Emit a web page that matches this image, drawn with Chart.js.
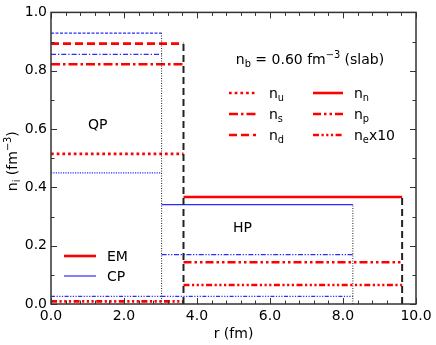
<!DOCTYPE html>
<html><head><meta charset="utf-8">
<script src="https://cdn.jsdelivr.net/npm/chart.js@4/dist/chart.umd.min.js"></script>
<style>html,body{margin:0;padding:0;background:#fff}#wrap{width:436px;height:345px;position:relative}</style>
</head><body><div id="wrap"><canvas id="c"></canvas></div>
<script>
// ---- data ----
const xTicks = [0, 2, 4, 6, 8, 10];
const yTicks = [0, 0.2, 0.4, 0.6, 0.8, 1.0];
const quarkNames = ['u', 's', 'd'];
const hadronNames = ['n', 'p'];
const emRadii = [3.63, 9.62];   // QP radius, cell radius (EM)
const cpRadii = [3.03, 8.27];   // QP radius, cell radius (CP)
const emQuark = [0.515, 0.822, 0.893]; // u, s, d in QP (EM)
const cpQuark = [0.450, 0.856, 0.929]; // u, s, d in QP (CP)
const emHadron = [0.367, 0.143];       // n, p in HP (EM)
const cpHadron = [0.341, 0.169];       // n, p in HP (CP)
const emElec10 = [0.009, 0.065];       // ne x10 in QP, HP (EM)
const cpElec10 = [0.026, 0.026];       // ne x10 in QP, HP (CP)

// ---- styles ----
const RED = '#ff0000', BLUE = '#2b2bff', BLACK = '#222222';
const emDash = { u: [2.7, 3], s: [9, 3, 2.5, 3], d: [8, 4], n: [], p: [8, 3, 2.5, 3, 2.5, 3], e: [6, 2.5, 2.2, 2.5, 2.2, 2.5, 2.2, 2.5] };
const cpDash = { u: [1.2, 1.2], s: [5, 2, 1.3, 2], d: [3, 1.5], n: [], p: [5, 1.6, 1.3, 1.6, 1.3, 1.6], e: [4, 1.5, 1.2, 1.5, 1.2, 1.5, 1.2, 1.5] };
const EMW = 2.6, CPW = 1.2;

const datasets = [];
function seg(x0, x1, y0, y1, color, width, dash) {
  datasets.push({ data: [{ x: x0, y: y0 }, { x: x1, y: y1 }], borderColor: color, borderWidth: width,
    borderDash: dash, pointRadius: 0, fill: false, tension: 0, borderCapStyle: 'butt' });
}
// boundaries (vertical)
seg(cpRadii[0], cpRadii[0], 0, Math.max(...cpQuark), BLACK, 1, [1, 1.5]);
seg(cpRadii[1], cpRadii[1], 0, cpHadron[0], BLACK, 1, [1, 1.5]);
seg(emRadii[0], emRadii[0], 0, Math.max(...emQuark), BLACK, 2, [7, 4]);
seg(emRadii[1], emRadii[1], 0, emHadron[0], BLACK, 2, [7, 4]);
// CP
quarkNames.forEach((q, i) => seg(0, cpRadii[0], cpQuark[i], cpQuark[i], BLUE, CPW, cpDash[q]));
hadronNames.forEach((h, i) => seg(cpRadii[0], cpRadii[1], cpHadron[i], cpHadron[i], BLUE, CPW, cpDash[h]));
seg(0, cpRadii[0], cpElec10[0], cpElec10[0], BLUE, CPW, cpDash.e);
seg(cpRadii[0], cpRadii[1], cpElec10[1], cpElec10[1], BLUE, CPW, cpDash.e);
// EM
quarkNames.forEach((q, i) => seg(0, emRadii[0], emQuark[i], emQuark[i], RED, EMW, emDash[q]));
hadronNames.forEach((h, i) => seg(emRadii[0], emRadii[1], emHadron[i], emHadron[i], RED, EMW, emDash[h]));
seg(0, emRadii[0], emElec10[0], emElec10[0], RED, EMW, emDash.e);
seg(emRadii[0], emRadii[1], emElec10[1], emElec10[1], RED, EMW, emDash.e);

const FONT = '"DejaVu Sans", sans-serif';
function subText(ctx, x, y, base, sub, sup, size, after) {
  // draws base + subscript/superscript + after, left aligned at x, baseline y; returns end x
  ctx.font = size + 'px ' + FONT;
  ctx.fillText(base, x); x += ctx.measureText(base).width;
  if (sub) { ctx.font = (size * 0.7) + 'px ' + FONT; ctx.fillText(sub, x, y + size * 0.25); x += ctx.measureText(sub).width; }
  if (sup) { ctx.font = (size * 0.7) + 'px ' + FONT; ctx.fillText(sup, x, y - size * 0.42); x += ctx.measureText(sup).width; }
  if (after) { ctx.font = size + 'px ' + FONT; ctx.fillText(after, x, y); x += ctx.measureText(after).width; }
  return x;
}
function txt(ctx, parts, x, y) {
  // parts: [text, kind] kind: 'n' normal, 'b' sub, 'p' sup
  let cx = x;
  for (const [t, k, s] of parts) {
    const size = k === 'n' ? s : s * 0.7;
    ctx.font = size + 'px ' + FONT;
    const dy = k === 'b' ? s * 0.22 : (k === 'p' ? -s * 0.42 : 0);
    ctx.fillText(t, cx, y + dy);
    cx += ctx.measureText(t).width;
  }
  return cx - x;
}
function measure(ctx, parts) {
  let w = 0;
  for (const [t, k, s] of parts) { ctx.font = (k === 'n' ? s : s * 0.7) + 'px ' + FONT; w += ctx.measureText(t).width; }
  return w;
}

const decor = {
  id: 'decor',
  afterDatasetsDraw(chart) {
    const { ctx, chartArea: a, scales: { x, y } } = chart;
    ctx.save();
    ctx.strokeStyle = '#333'; ctx.lineWidth = 1;
    // ticks inward
    ctx.beginPath();
    for (let v = 0; v <= 10.001; v += 0.4) {
      const px = Math.round(x.getPixelForValue(v)) + 0.5;
      const major = Math.abs(v / 2 - Math.round(v / 2)) < 1e-6;
      const L = major ? 6 : 3.5;
      ctx.moveTo(px, a.bottom); ctx.lineTo(px, a.bottom - L);
      ctx.moveTo(px, a.top); ctx.lineTo(px, a.top + L);
    }
    for (let v = 0; v <= 1.0001; v += 0.1) {
      const py = Math.round(y.getPixelForValue(v)) + 0.5;
      const major = Math.abs(v / 0.2 - Math.round(v / 0.2)) < 1e-6;
      const L = major ? 6 : 3.5;
      ctx.moveTo(a.left, py); ctx.lineTo(a.left + L, py);
      ctx.moveTo(a.right, py); ctx.lineTo(a.right - L, py);
    }
    ctx.stroke();
    // frame
    ctx.lineWidth = 1.5;
    ctx.strokeRect(a.left, a.top, a.right - a.left, a.bottom - a.top);

    ctx.fillStyle = '#000';
    ctx.textBaseline = 'alphabetic';
    // axis titles
    const xt = [['r (fm)', 'n', 14]];
    txt(ctx, xt, (a.left + a.right) / 2 - measure(ctx, xt) / 2, 338);
    ctx.save();
    ctx.translate(17, (a.top + a.bottom) / 2 + 3);
    ctx.rotate(-Math.PI / 2);
    const yt = [['n', 'n', 14], ['i', 'b', 14], [' (fm', 'n', 14], ['\u22123', 'p', 14], [')', 'n', 14]];
    txt(ctx, yt, -measure(ctx, yt) / 2, 0);
    ctx.restore();

    // region labels
    txt(ctx, [['QP', 'n', 14]], 88, 129);
    txt(ctx, [['HP', 'n', 14]], 233, 232);

    // title
    const tp = [['n', 'n', 14], ['b', 'b', 14], [' = 0.60 fm', 'n', 14], ['\u22123', 'p', 14], [' (slab)', 'n', 14]];
    txt(ctx, tp, 310 - measure(ctx, tp) / 2, 64);

    // species legend
    const rowsY = [93, 114, 135];
    const col1 = quarkNames, col2 = ['n', 'p', 'e'];
    function legLine(x0, x1, yy, color, w, dash) {
      ctx.save(); ctx.strokeStyle = color; ctx.lineWidth = w; ctx.setLineDash(dash); ctx.lineCap = 'butt';
      ctx.beginPath(); ctx.moveTo(x0, yy); ctx.lineTo(x1, yy); ctx.stroke(); ctx.restore();
    }
    col1.forEach((q, i) => {
      legLine(229, 256, rowsY[i], RED, EMW, emDash[q]);
      txt(ctx, [['n', 'n', 14], [q, 'b', 14]], 269, rowsY[i] + 5);
    });
    col2.forEach((h, i) => {
      legLine(313, 343, rowsY[i], RED, EMW, emDash[h]);
      const parts = [['n', 'n', 14], [h, 'b', 14]];
      if (h === 'e') parts.push(['x10', 'n', 14]);
      txt(ctx, parts, 354, rowsY[i] + 5);
    });
    // model legend
    legLine(64, 96, 256, RED, EMW, []);
    legLine(64, 96, 276, BLUE, CPW, []);
    txt(ctx, [['EM', 'n', 14]], 107, 261);
    txt(ctx, [['CP', 'n', 14]], 107, 281);
    ctx.restore();
  }
};

new Chart(document.getElementById('c'), {
  type: 'line',
  data: { datasets },
  options: {
    responsive: true, maintainAspectRatio: false, animation: false,
    layout: { padding: { left: 0, right: 20, top: 10, bottom: 0 } },
    plugins: { legend: { display: false }, tooltip: { enabled: false } },
    scales: {
      x: { type: 'linear', min: 0, max: 10,
        afterBuildTicks: s => { s.ticks = xTicks.map(v => ({ value: v })); },
        afterFit: s => { s.height = 41; },
        grid: { display: false, drawTicks: false }, border: { display: false },
        ticks: { padding: 4, color: '#000', font: { family: 'DejaVu Sans', size: 14 }, maxRotation: 0,
          callback: v => Number(v).toFixed(1) } },
      y: { type: 'linear', min: 0, max: 1,
        afterBuildTicks: s => { s.ticks = yTicks.map(v => ({ value: v })); },
        afterFit: s => { s.width = 51; },
        grid: { display: false, drawTicks: false }, border: { display: false },
        ticks: { padding: 4, color: '#000', font: { family: 'DejaVu Sans', size: 14 },
          callback: v => Number(v).toFixed(1) } }
    }
  },
  plugins: [decor]
});
</script></body></html>
